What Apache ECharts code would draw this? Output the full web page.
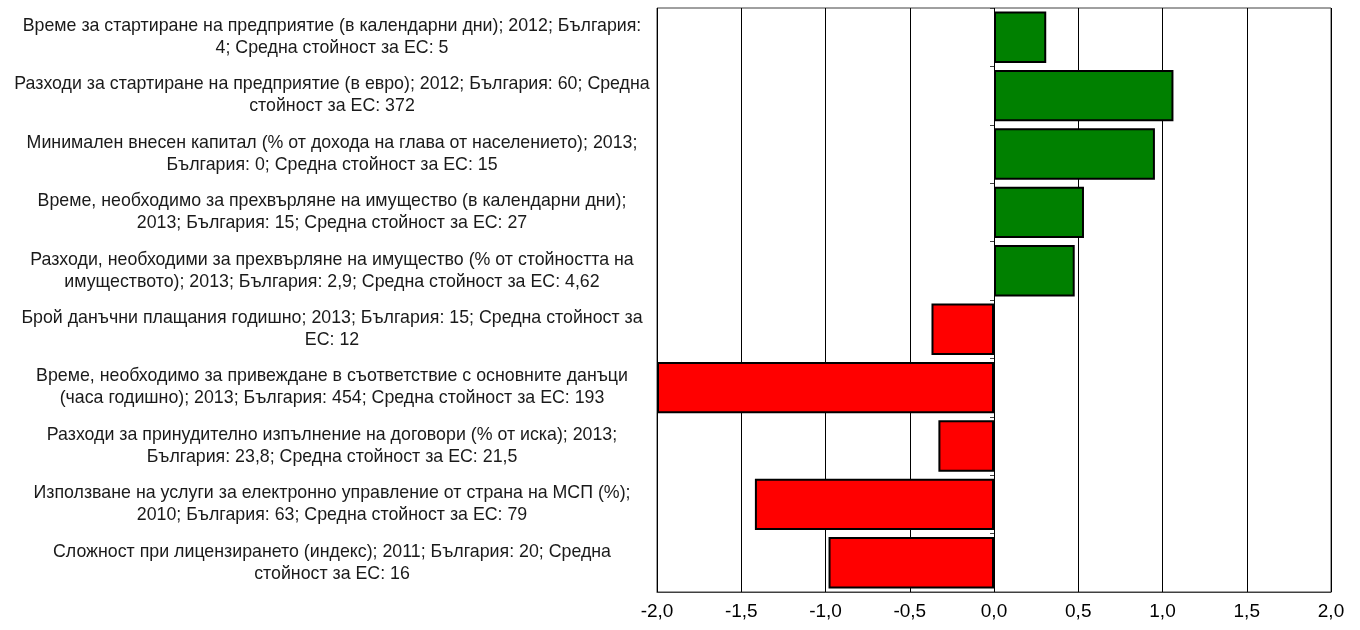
<!DOCTYPE html>
<html><head><meta charset="utf-8">
<script src="https://cdn.jsdelivr.net/npm/echarts@6/dist/echarts.min.js"></script>
<style>html,body{margin:0;padding:0;background:#fff}#c{width:1360px;height:630px}</style>
</head><body><div id="c"></div>
<script>
const categories = [
  "Време за стартиране на предприятие (в календарни дни); 2012; България:\n4; Средна стойност за ЕС: 5",
  "Разходи за стартиране на предприятие (в евро); 2012; България: 60; Средна\nстойност за ЕС: 372",
  "Минимален внесен капитал (% от дохода на глава от населението); 2013;\nБългария: 0; Средна стойност за ЕС: 15",
  "Време, необходимо за прехвърляне на имущество (в календарни дни);\n2013; България: 15; Средна стойност за ЕС: 27",
  "Разходи, необходими за прехвърляне на имущество (% от стойността на\nимуществото); 2013; България: 2,9; Средна стойност за ЕС: 4,62",
  "Брой данъчни плащания годишно; 2013; България: 15; Средна стойност за\nЕС: 12",
  "Време, необходимо за привеждане в съответствие с основните данъци\n(часа годишно); 2013; България: 454; Средна стойност за ЕС: 193",
  "Разходи за принудително изпълнение на договори (% от иска); 2013;\nБългария: 23,8; Средна стойност за ЕС: 21,5",
  "Използване на услуги за електронно управление от страна на МСП (%);\n2010; България: 63; Средна стойност за ЕС: 79",
  "Сложност при лицензирането (индекс); 2011; България: 20; Средна\nстойност за ЕС: 16"
];
const values = [0.31, 1.065, 0.955, 0.534, 0.479, -0.371, -2.0, -0.33, -1.419, -0.982];
const xTicks = { min: -2, max: 2, interval: 0.5 };
const posColor = '#008000', negColor = '#FF0000';

const chart = echarts.init(document.getElementById('c'));
chart.setOption({
  animation: false,
  grid: { left: 657, right: 29, top: 8, bottom: 38, show: true, borderColor: '#404040', borderWidth: 1 },
  xAxis: {
    type: 'value', min: xTicks.min, max: xTicks.max, interval: xTicks.interval,
    axisLine: { show: true, lineStyle: { color: '#404040' } },
    axisTick: { show: false },
    splitLine: { show: true, lineStyle: { color: '#000', width: 1 } },
    axisLabel: { color: '#000', fontSize: 19, fontFamily: 'Liberation Sans, Arial, sans-serif', margin: 10,
      formatter: v => v.toFixed(1).replace('.', ',') }
  },
  yAxis: [{
    type: 'category', data: categories, inverse: true,
    axisLine: { show: false }, axisTick: { show: false },
    axisLabel: { color: '#1a1a1a', fontSize: 17.8, lineHeight: 22, fontFamily: 'Liberation Sans, Arial, sans-serif',
      align: 'center', margin: 325 }
  }, {
    type: 'category', data: categories, inverse: true, position: 'left', offset: -337,
    axisLine: { show: false, onZero: false },
    axisTick: { show: true, length: 4, lineStyle: { color: '#404040' } },
    axisLabel: { show: false }
  }],
  series: [{
    type: 'bar', barCategoryGap: '12%', clip: true,
    data: values.map(v => ({ value: v, itemStyle: { color: v >= 0 ? posColor : negColor } })),
    itemStyle: { borderColor: '#000', borderWidth: 2 }
  }]
});
</script></body></html>
